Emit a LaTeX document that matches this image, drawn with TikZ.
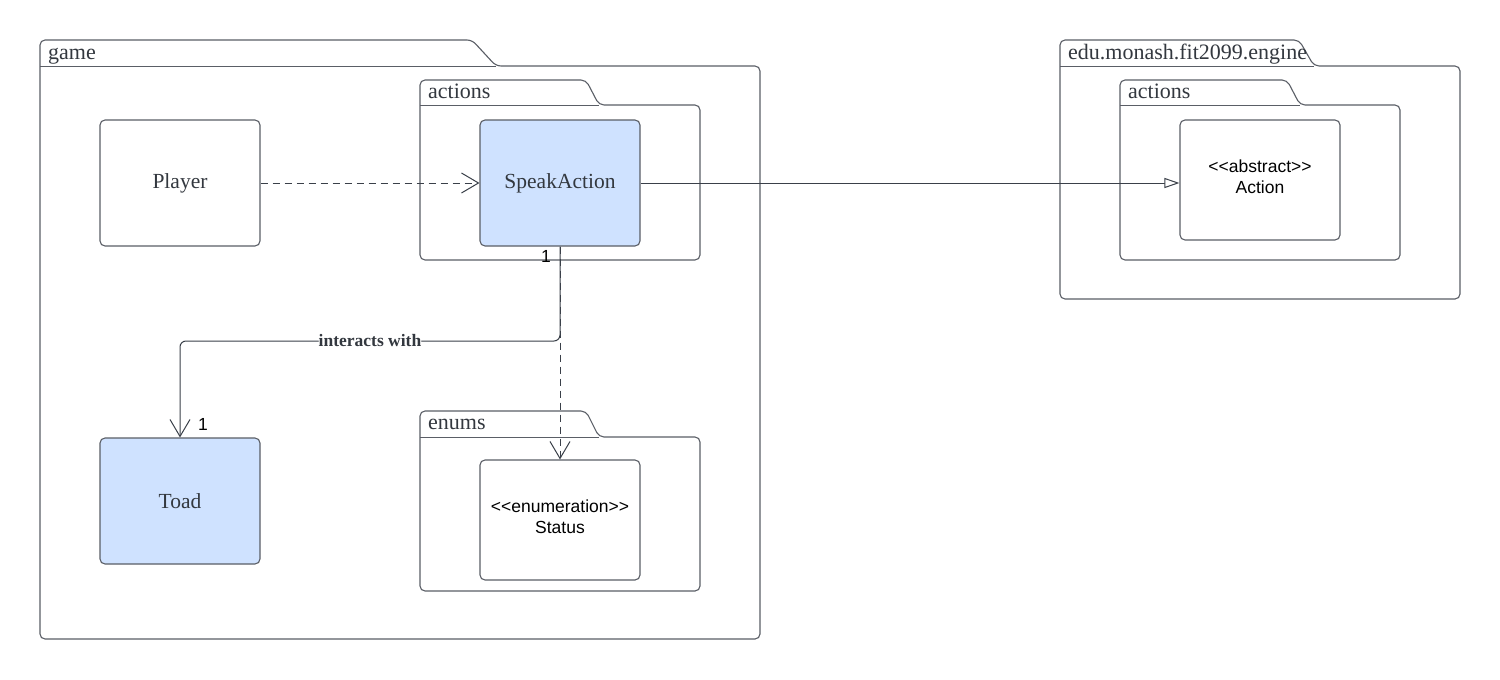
\documentclass[tikz,border=0pt]{standalone}
\usepackage{fontspec}
\setmainfont{Liberation Serif}
\newfontfamily\labelsans{Liberation Sans}
\usetikzlibrary{arrows.meta}

\definecolor{edge}{HTML}{3A4049}
\definecolor{frame}{HTML}{5A5E66}
\definecolor{classblue}{HTML}{CFE2FF}
\definecolor{ink}{HTML}{33383F}

\tikzset{
  classbox/.style={draw=frame, line width=1.1pt, rounded corners=5pt, fill=white,
    minimum width=160pt, inner sep=0pt, font=\fontsize{21.5}{25}\selectfont, text=ink},
  tallbox/.style={minimum height=126pt},
  shortbox/.style={minimum height=120pt},
  filled/.style={fill=classblue},
  stereo/.style={font=\labelsans\fontsize{17.5}{21}\selectfont, text=black, align=center},
  pkgframe/.style={draw=frame, line width=1.1pt, rounded corners=5pt},
  pkgline/.style={draw=frame, line width=1pt},
  pkglabel/.style={anchor=base west, inner sep=0pt, font=\fontsize{22}{25}\selectfont, text=ink},
  multlabel/.style={inner sep=0pt, font=\labelsans\fontsize{17.5}{20}\selectfont, text=black},
  assoclabel/.style={inner sep=0pt, fill=white, font=\bfseries\fontsize{17.5}{20}\selectfont, text=ink},
  dependency/.style={draw=edge, line width=1pt, dash pattern=on 7pt off 5pt,
    -{Straight Barb[length=17pt,width=20pt,line width=1pt]}},
  association/.style={draw=edge, line width=1pt, rounded corners=6pt,
    -{Straight Barb[length=17pt,width=20pt,line width=1pt]}},
  generalization/.style={draw=edge, line width=1pt,
    -{Triangle[open,length=15pt,width=10pt,line width=1pt,fill=white]}},
}

% UML package: left, top, tab baseline, tab slope start, tab slope end, right, bottom
\newcommand\umlpkg[7]{%
  \draw[pkgframe] (#1,#3) -- (#1,#2) -- (#4,#2) -- (#5,#3) -- (#6,#3) -- (#6,#7) -- (#1,#7) -- cycle;
  \draw[pkgline] (#1,#3) -- (#5,#3);
}

\begin{document}
\begin{tikzpicture}[x=1pt, y=-1pt]
  \useasboundingbox[fill=white] (0,0) rectangle (1500,680);

  % packages
  \umlpkg{40}{40}{66}{472}{496}{760}{639}
  \node[pkglabel] (gameLbl) at (48,59) {game};

  \umlpkg{420}{80}{105}{586}{599}{700}{260}
  \node[pkglabel] (actLbl) at (428,98) {actions};

  \umlpkg{420}{411}{437}{586}{599}{700}{591}
  \node[pkglabel] (enumLbl) at (428,429) {enums};

  \umlpkg{1060}{40}{66}{1299}{1314}{1460}{299}
  \node[pkglabel] (engineLbl) at (1068,59) {edu.monash.fit2099.engine};

  \umlpkg{1120}{80}{105}{1287}{1300}{1400}{260}
  \node[pkglabel] (engActLbl) at (1128,98) {actions};

  % classes
  \node[classbox, tallbox] (player) at (180,183) {Player};
  \node[classbox, tallbox, filled] (speak) at (560,183) {SpeakAction};
  \node[classbox, tallbox, filled] (toad) at (180,501) {Toad};
  \node[classbox, shortbox] (status) at (560,520) {};
  \node[stereo] (statusTxt) at (560,517) {<{}<enumeration>{}>\\Status};
  \node[classbox, shortbox] (action) at (1260,180) {};
  \node[stereo] (actionTxt) at (1260,177) {<{}<abstract>{}>\\Action};

  % relations
  \coordinate (bendA) at (560,341);
  \coordinate (bendB) at (180,341);
  \draw[association] (speak.south) -- (bendA) -- node[assoclabel] (assocLbl) {interacts with} (bendB) -- (toad.north);
  \draw[dependency] (speak.south) -- (status.north);
  \draw[dependency] (player.east) -- (speak.west);
  \draw[generalization] (speak.east) -- (speak.east -| action.west);

  % multiplicities
  \node[multlabel] (multSpeak) at (546,256) {1};
  \node[multlabel] (multToad) at (203,424) {1};
\end{tikzpicture}
\end{document}
